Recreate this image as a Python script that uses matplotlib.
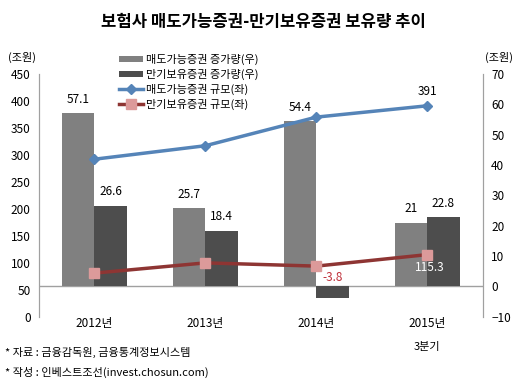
import matplotlib.pyplot as plt
import numpy as np

plt.rcParams['font.family'] = ['Noto Sans CJK KR', 'DejaVu Sans']

# 데이터
years = ['2012년', '2013년', '2014년', '2015년']
afs_inc = [57.1, 25.7, 54.4, 21]       # 매도가능증권 증가량 (우)
htm_inc = [26.6, 18.4, -3.8, 22.8]     # 만기보유증권 증가량 (우)
afs_size = [292, 317, 370, 391]        # 매도가능증권 규모 (좌)
htm_size = [81, 100, 94, 115.3]        # 만기보유증권 규모 (좌)

fig = plt.figure(figsize=(5.26, 3.85), dpi=100)
axb = fig.add_axes([0.074, 0.177, 0.844, 0.631])
axl = axb.twinx()

x = np.arange(len(years))
w = 0.29
b1 = axb.bar(x - w/2, afs_inc, w, color='#808080', label='매도가능증권 증가량(우)', zorder=2)
b2 = axb.bar(x + w/2, htm_inc, w, color='#4d4d4d', label='만기보유증권 증가량(우)', zorder=2)
l1, = axl.plot(x, afs_size, color='#5584b8', lw=2.5, marker='D', ms=5.5,
               label='매도가능증권 규모(좌)')
l2, = axl.plot(x, htm_size, color='#8e3533', lw=2.5, marker='s', ms=7,
               mfc='#dc9a9a', mec='#dc9a9a', label='만기보유증권 규모(좌)')

axb.set_ylim(-10, 70)
axl.set_ylim(0, 450)
axb.set_xlim(-0.5, 3.5)
axb.yaxis.tick_right()
axl.yaxis.tick_left()
axb.set_yticks(range(-10, 71, 10))
axl.set_yticks(range(0, 451, 50))
axb.set_xticks(x)
axb.set_xticklabels(years, fontsize=8)
for a in (axb, axl):
    a.tick_params(length=0, labelsize=8.5, pad=6)
    for s in ('top', 'bottom'):
        a.spines[s].set_visible(False)
    a.spines['left'].set_color('#a0a0a0')
    a.spines['right'].set_color('#a0a0a0')
axb.tick_params(axis='x', pad=0)
axb.axhline(0, color='#a0a0a0', lw=1, zorder=1)
axb.text(x[3], -0.105, '3분기', transform=axb.get_xaxis_transform(),
         ha='center', va='top', fontsize=8)

# 막대 라벨
for i in range(len(years)):
    axb.text(x[i] - w/2, afs_inc[i] + 2.5, str(afs_inc[i]), ha='center', va='bottom', fontsize=8.5)
    if htm_inc[i] >= 0:
        axb.text(x[i] + w/2, htm_inc[i] + 2.5, str(htm_inc[i]), ha='center', va='bottom', fontsize=8.5)
    else:
        axb.text(x[i] + w/2, 0.8, str(htm_inc[i]), ha='center', va='bottom', fontsize=8.5, color='#c0303a')
axl.text(x[3], afs_size[3] + 14, str(afs_size[3]), ha='center', va='bottom', fontsize=8.5)
axl.text(x[3] + 0.02, htm_size[3] - 12, str(htm_size[3]), ha='center', va='top', fontsize=8.5, color='white')

fig.legend(handles=[b1, b2, l1, l2], loc='upper left', bbox_to_anchor=(0.215, 0.875),
           frameon=False, fontsize=8, labelspacing=0.35, handlelength=2.2,
           handleheight=0.5, handletextpad=0.3, borderpad=0)

fig.text(0.5, 0.943, '보험사 매도가능증권-만기보유증권 보유량 추이', ha='center', va='center',
         fontsize=12, fontweight='bold')
fig.text(0.015, 0.852, '(조원)', fontsize=8, va='center')
fig.text(0.922, 0.852, '(조원)', fontsize=8, va='center')
fig.text(0.01, 0.085, '* 자료 : 금융감독원, 금융통계정보시스템', fontsize=8, va='center', fontweight='medium')
fig.text(0.01, 0.033, '* 작성 : 인베스트조선(invest.chosun.com)', fontsize=8, va='center', fontweight='medium')

fig.savefig('out.png', dpi=100)
